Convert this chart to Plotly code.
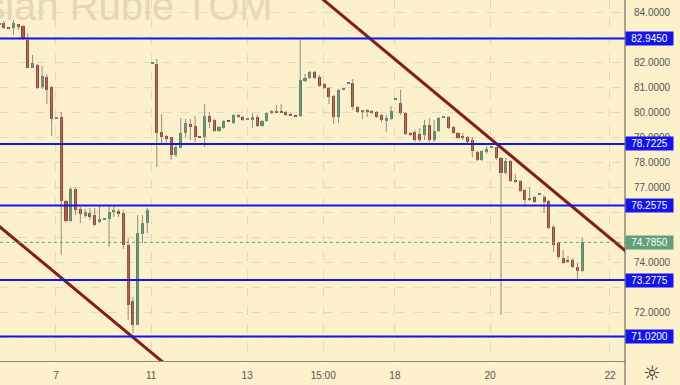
import plotly.graph_objects as go
import numpy as np

# ---------------- data ----------------
opens = [83.50, 83.56, 83.36, 83.36, 83.52, 83.44, 82.88, 81.76, 81.88, 81.00,
         81.40, 81.00, 79.72, 79.80, 76.44, 75.64, 76.92, 76.12, 75.84, 75.96,
         75.88, 75.60, 75.70, 75.72, 76.00, 76.04, 75.96, 74.68, 72.44, 71.48,
         75.12, 75.56, 81.92, 81.92, 79.20, 79.04, 79.00, 78.28, 78.56, 79.16,
         79.52, 79.44, 79.00, 79.00, 79.84, 79.68, 79.24, 79.36, 79.64, 79.56,
         79.88, 79.80, 79.70, 79.68, 79.80, 79.44, 79.64, 79.96, 80.04, 80.00,
         80.00, 79.92, 79.84, 79.84, 81.24, 81.36, 81.60, 81.40, 81.12, 80.96,
         80.64, 79.80, 80.88, 81.14, 81.16, 80.20, 80.02, 80.08, 80.04, 80.00,
         79.88, 79.64, 79.72, 80.48, 80.36, 79.96, 79.16, 79.20, 79.12, 79.08,
         79.48, 78.88, 79.24, 79.78, 79.80, 79.40, 79.16, 79.00, 79.00, 78.88,
         78.40, 78.08, 78.40, 78.58, 78.60, 78.16, 77.56, 78.04, 77.28, 77.24,
         76.88, 76.48, 76.60, 76.70, 76.60, 76.44, 75.40, 74.76, 74.16, 74.08,
         74.08, 73.80, 73.64]
highs = [83.56, 83.64, 83.40, 83.68, 83.52, 83.48, 83.16, 82.28, 81.92, 81.84,
         81.52, 81.04, 79.80, 80.00, 76.48, 77.00, 77.00, 76.20, 76.12, 76.16,
         76.16, 76.24, 75.72, 76.24, 76.24, 76.12, 76.08, 74.96, 72.60, 75.88,
         75.88, 76.16, 81.96, 82.12, 79.92, 79.08, 79.00, 78.68, 79.76, 79.72,
         79.72, 79.84, 79.00, 80.32, 80.00, 79.72, 79.44, 79.68, 79.64, 79.92,
         79.92, 79.84, 79.76, 79.96, 79.88, 79.68, 80.00, 80.08, 80.28, 80.32,
         80.04, 79.96, 79.84, 82.88, 81.52, 81.64, 81.64, 81.48, 81.16, 81.00,
         80.68, 80.92, 80.92, 81.16, 81.32, 80.24, 80.08, 80.12, 80.08, 80.04,
         79.92, 79.88, 80.24, 80.52, 80.88, 80.00, 79.20, 79.28, 79.36, 79.68,
         79.76, 79.68, 79.80, 79.80, 79.84, 79.44, 79.20, 79.16, 79.04, 79.00,
         78.44, 78.48, 78.64, 78.60, 78.60, 78.20, 78.16, 78.08, 77.52, 77.28,
         76.92, 77.00, 76.64, 76.72, 76.68, 76.48, 75.48, 74.80, 74.48, 74.24,
         74.16, 73.96, 74.96]
lows = [83.48, 83.32, 83.32, 83.08, 83.28, 82.88, 81.76, 81.76, 80.92, 80.92,
        80.32, 79.04, 79.72, 74.28, 75.56, 75.60, 75.88, 75.56, 75.76, 75.68,
        75.44, 75.56, 75.68, 74.60, 75.80, 75.80, 74.52, 71.68, 71.16, 71.48,
        74.76, 75.16, 81.92, 77.80, 78.68, 78.68, 78.08, 78.20, 78.56, 79.00,
        78.88, 78.80, 78.96, 78.60, 79.36, 79.20, 79.20, 79.32, 79.60, 79.52,
        79.76, 79.64, 79.68, 79.36, 79.40, 79.40, 79.60, 79.92, 79.96, 79.96,
        79.84, 79.84, 79.80, 79.80, 81.20, 81.32, 81.32, 81.00, 80.92, 80.32,
        79.52, 79.56, 80.88, 81.12, 80.08, 79.96, 79.72, 79.80, 79.92, 79.76,
        79.60, 79.20, 79.68, 80.48, 79.88, 79.08, 79.04, 78.80, 78.80, 78.88,
        78.80, 78.80, 79.20, 79.76, 79.32, 79.12, 78.92, 78.88, 78.76, 78.20,
        78.04, 78.04, 78.32, 78.56, 78.08, 71.88, 77.48, 77.20, 77.16, 76.80,
        76.28, 76.44, 76.36, 76.68, 75.96, 75.32, 74.40, 74.12, 73.92, 73.96,
        73.76, 73.28, 73.60]
closes = [83.52, 83.36, 83.35, 83.56, 83.40, 82.92, 81.76, 81.96, 80.96, 81.44,
          80.88, 79.72, 79.76, 76.44, 75.64, 76.92, 76.08, 75.92, 76.00, 75.80,
          75.48, 75.72, 75.72, 76.00, 76.04, 75.92, 74.68, 72.28, 71.48, 75.16,
          75.56, 76.08, 81.96, 79.16, 79.00, 78.92, 78.28, 78.60, 79.16, 79.56,
          79.40, 79.00, 78.98, 79.84, 79.60, 79.24, 79.40, 79.64, 79.62, 79.88,
          79.80, 79.68, 79.72, 79.80, 79.44, 79.64, 79.96, 80.06, 79.96, 79.98,
          79.88, 79.84, 79.82, 81.28, 81.36, 81.60, 81.36, 81.04, 80.96, 80.60,
          79.80, 80.88, 80.92, 81.16, 80.20, 80.00, 80.04, 80.00, 79.96, 79.80,
          79.68, 79.76, 80.04, 80.50, 79.96, 79.12, 79.08, 78.88, 78.88, 79.48,
          78.88, 79.24, 79.76, 79.80, 79.36, 79.16, 78.96, 78.98, 78.80, 78.44,
          78.08, 78.44, 78.52, 78.60, 78.16, 77.56, 78.04, 77.24, 77.20, 76.84,
          76.48, 76.56, 76.40, 76.72, 76.40, 75.36, 74.68, 74.20, 73.96, 74.00,
          73.80, 73.64, 74.785]

tick_pos = [11.9, 31.8, 51.9, 67.8, 82.8, 102.7, 127.8]
tick_text = ["7", "11", "13", "15:00", "18", "20", "22"]
grid_prices = [71, 72, 73, 74, 75, 76, 77, 78, 79, 80, 81, 82, 83, 84]
label_prices = [72, 74, 77, 78, 79, 80, 81, 82, 84]   # labels not hidden by price badges
level_prices = [82.945, 78.7225, 76.2575, 73.2775, 71.02]
last_price = 74.785
trend_a_x = [65.0, 132.0]
trend_a_y = [84.94, 74.29]
trend_b_x = [-2.0, 36.0]
trend_b_y = [75.75, 69.72]
watermark = "Russian Ruble TOM"

# ---------------- styling ----------------
BG = "#fdf1cc"
GRID = "#e3d9bd"
UP = "#4e8f66"
DOWN = "#a93a2c"
WICK = "#8e8e86"
BLUE = "#1414f0"
TREND = "#861c1c"
LASTC = "#62a07b"
FONT = "Liberation Sans"

o = np.array(opens); c = np.array(closes); h = np.array(highs); l = np.array(lows)
idx = np.arange(len(o))

wx, wy = [], []
for i in idx:
    wx += [i, i, None]
    wy += [l[i], h[i], None]

body_base = np.minimum(o, c)
body_h = np.maximum(np.abs(c - o), 0.045)
colors = [UP if c[i] >= o[i] else DOWN for i in idx]

fig = go.Figure()
fig.add_trace(go.Scatter(x=wx, y=wy, mode="lines", line=dict(color=WICK, width=1),
                         hoverinfo="skip", showlegend=False))
fig.add_trace(go.Bar(x=idx, y=body_h, base=body_base, width=0.64,
                     marker=dict(color=colors, line=dict(width=0)),
                     hoverinfo="skip", showlegend=False))
fig.add_trace(go.Scatter(x=trend_a_x, y=trend_a_y, mode="lines",
                         line=dict(color=TREND, width=3), hoverinfo="skip", showlegend=False))
fig.add_trace(go.Scatter(x=trend_b_x, y=trend_b_y, mode="lines",
                         line=dict(color=TREND, width=3), hoverinfo="skip", showlegend=False))

shapes = []
for p in level_prices:
    shapes.append(dict(type="line", xref="paper", x0=0, x1=1, yref="y", y0=p, y1=p,
                       line=dict(color=BLUE, width=2), layer="above"))
shapes.append(dict(type="line", xref="paper", x0=0, x1=1, yref="y", y0=last_price, y1=last_price,
                   line=dict(color=LASTC, width=1, dash="dot"), layer="above"))
shapes.append(dict(type="line", xref="paper", x0=1, x1=1, yref="paper", y0=-0.07, y1=1,
                   line=dict(color="#555555", width=1), layer="above"))

annotations = []
for p in level_prices:
    annotations.append(dict(xref="paper", x=1, xanchor="left", yref="y", y=p, yanchor="middle",
                            text=f"{p:.4f}", showarrow=False, bgcolor=BLUE,
                            font=dict(family=FONT, size=10, color="white"),
                            width=45, height=11, borderpad=1, align="center"))
annotations.append(dict(xref="paper", x=1, xanchor="left", yref="y", y=last_price, yanchor="middle",
                        text=f"{last_price:.4f}", showarrow=False, bgcolor=LASTC,
                        font=dict(family=FONT, size=10, color="white"),
                        width=45, height=11, borderpad=1, align="center"))
annotations.append(dict(xref="paper", x=275 / 625, xanchor="right", yref="paper", y=1,
                        yanchor="middle", yshift=-6, text=watermark, showarrow=False,
                        font=dict(family=FONT, size=40, color="#e4d7b2")))
annotations.append(dict(xref="paper", x=652 / 625, xanchor="center", yref="paper",
                        y=-12 / 361, yanchor="middle", text="☼", showarrow=False,
                        font=dict(family="DejaVu Sans", size=20, color="#222222")))

fig.update_layout(
    width=680, height=385,
    margin=dict(l=0, r=55, t=0, b=24, autoexpand=False),
    paper_bgcolor=BG, plot_bgcolor=BG,
    shapes=shapes, annotations=annotations,
    showlegend=False, bargap=0,
    xaxis=dict(range=[0.19, 130.94], tickvals=tick_pos, ticktext=tick_text,
               showgrid=True, gridcolor=GRID, griddash="dash", gridwidth=1,
               zeroline=False, showline=True, linecolor="#8a8a8a", linewidth=1,
               ticks="", ticklabelstandoff=5,
               tickfont=dict(family=FONT, size=10, color="#555555")),
    yaxis=dict(range=[70.04, 84.48], side="right", tickvals=label_prices,
               tickformat=".4f", showgrid=False, zeroline=False, showline=False,
               ticks="", ticklabelstandoff=8,
               tickfont=dict(family=FONT, size=10, color="#555555")),
    yaxis2=dict(range=[70.04, 84.48], overlaying="y", side="right", tickvals=grid_prices,
                showticklabels=False, showgrid=True, gridcolor=GRID, griddash="dash",
                gridwidth=1, zeroline=False, showline=False, ticks=""),
)
# invisible trace to activate the grid axis
fig.add_trace(go.Scatter(x=[None], y=[None], yaxis="y2", showlegend=False, hoverinfo="skip"))

fig.write_html("out.html")
